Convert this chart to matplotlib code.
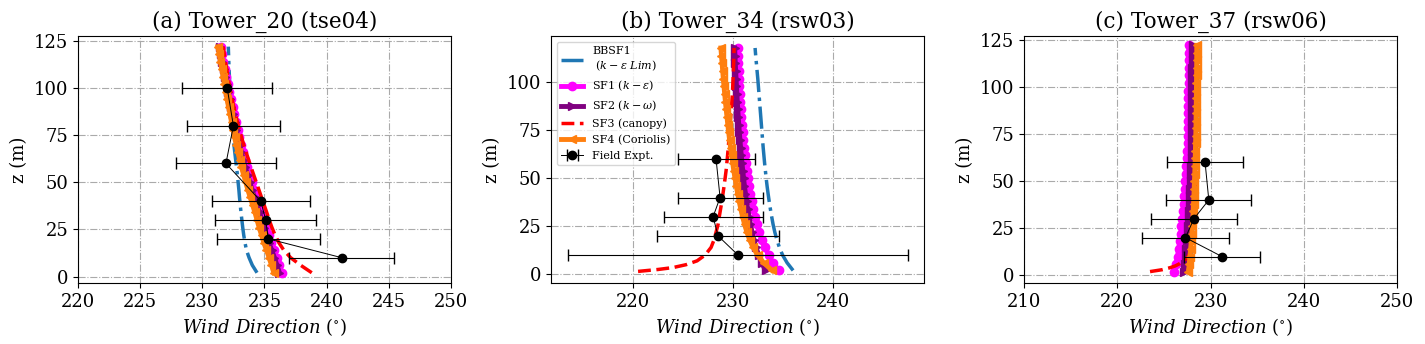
import matplotlib
matplotlib.use("Agg")
import matplotlib.pyplot as plt

plt.rcParams['font.family'] = 'serif'
plt.rcParams['mathtext.fontset'] = 'dejavuserif'

# model heights (m)
z_ac = [2, 6, 10, 14, 18, 22, 26, 30, 34, 38, 42, 46, 50, 54, 58, 62,
        66, 70, 74, 78, 82, 86, 90, 94, 98, 102, 106, 110, 114, 118, 122]
z_b = [2, 6, 10, 14, 18, 22, 26, 30, 34, 38, 42, 46, 50, 54, 58, 62,
       66, 70, 74, 78, 82, 86, 90, 94, 98, 102, 106, 110, 114, 118]
z_red_b = [1.5, 2.5, 3.5, 5, 7, 10, 14, 18, 22, 26, 30, 38, 46, 54, 62,
           70, 78, 86, 94, 102, 110, 118]
z_red_c = [2, 3, 4, 5, 6, 8, 10, 14, 18, 22, 26, 30, 38, 46, 54, 62,
           70, 78, 86, 94, 102, 110, 118, 122]

# field experiment heights
z_obs = [10, 20, 30, 40, 60, 80, 100]
z_obs_bc = [10, 20, 30, 40, 60]

# ---- (a) Tower_20 ----
bbsf1_a = [234.40, 234.02, 233.76, 233.55, 233.43, 233.33, 233.25, 233.18, 233.11, 233.05,
           232.99, 232.94, 232.88, 232.82, 232.75, 232.68, 232.61, 232.54, 232.48, 232.43,
           232.39, 232.35, 232.31, 232.28, 232.24, 232.21, 232.18, 232.15, 232.13, 232.11, 232.09]
sf1_a = [236.40, 236.20, 236.00, 235.77, 235.54, 235.34, 235.14, 234.95, 234.77, 234.56,
         234.36, 234.15, 233.97, 233.78, 233.60, 233.43, 233.27, 233.12, 232.98, 232.85,
         232.71, 232.58, 232.44, 232.31, 232.18, 232.07, 231.94, 231.82, 231.70, 231.58, 231.47]
sf2_a = [236.20, 236.00, 235.80, 235.58, 235.35, 235.16, 234.96, 234.78, 234.60, 234.40,
         234.20, 234.00, 233.82, 233.64, 233.46, 233.30, 233.14, 233.00, 232.86, 232.73,
         232.60, 232.47, 232.34, 232.21, 232.09, 231.98, 231.86, 231.74, 231.62, 231.51, 231.40]
sf3_a = [238.80, 237.90, 237.10, 236.55, 236.15, 235.85, 235.60, 235.38, 235.18, 234.97,
         234.76, 234.55, 234.34, 234.13, 233.92, 233.72, 233.52, 233.33, 233.15, 232.98,
         232.82, 232.67, 232.53, 232.40, 232.28, 232.17, 232.06, 231.96, 231.86, 231.77, 231.68]
sf4_a = [235.75, 235.56, 235.37, 235.16, 234.94, 234.76, 234.57, 234.40, 234.23, 234.04,
         233.85, 233.66, 233.49, 233.32, 233.15, 233.00, 232.85, 232.72, 232.59, 232.47,
         232.35, 232.23, 232.11, 231.99, 231.88, 231.78, 231.67, 231.56, 231.45, 231.35, 231.25]
obs_a = [241.2, 235.3, 235.1, 234.7, 231.9, 232.5, 232.0]
err_a = [4.25, 4.15, 4.05, 3.95, 4.0, 3.75, 3.6]

# ---- (b) Tower_34 ----
bbsf1_b = [236.00, 235.40, 234.95, 234.63, 234.38, 234.17, 234.00, 233.86, 233.73, 233.61,
           233.50, 233.40, 233.31, 233.23, 233.15, 233.08, 233.01, 232.95, 232.89, 232.83,
           232.77, 232.71, 232.65, 232.59, 232.53, 232.47, 232.40, 232.33, 232.26, 232.20]
sf1_b = [234.55, 234.00, 233.55, 233.18, 232.88, 232.62, 232.40, 232.21, 232.04, 231.88,
         231.74, 231.61, 231.49, 231.38, 231.28, 231.19, 231.10, 231.02, 230.95, 230.89,
         230.83, 230.78, 230.73, 230.68, 230.64, 230.60, 230.56, 230.53, 230.50, 230.47]
sf2_b = [233.25, 232.85, 232.55, 232.30, 232.08, 231.90, 231.74, 231.60, 231.47, 231.35,
         231.24, 231.14, 231.05, 230.97, 230.89, 230.82, 230.75, 230.69, 230.63, 230.57,
         230.52, 230.47, 230.42, 230.38, 230.34, 230.30, 230.26, 230.22, 230.19, 230.16]
sf3_b = [220.5, 222.5, 224.0, 225.3, 226.4, 227.2, 227.8, 228.1, 228.3, 228.5, 228.62,
         228.88, 229.1, 229.3, 229.45, 229.58, 229.7, 229.82, 229.93, 230.0, 230.06, 230.1]
sf4_b = [233.90, 233.05, 232.45, 232.00, 231.65, 231.38, 231.15, 230.95, 230.77, 230.61,
         230.46, 230.32, 230.19, 230.07, 229.96, 229.85, 229.75, 229.65, 229.56, 229.47,
         229.39, 229.31, 229.23, 229.16, 229.09, 229.02, 228.96, 228.90, 228.84, 228.78]
obs_b = [230.5, 228.5, 228.0, 228.7, 228.3]
err_b = [17.0, 6.1, 4.95, 4.25, 3.85]

# ---- (c) Tower_37 ----
bbsf1_c = [227.75, 227.82, 227.88, 227.94, 227.99, 228.04, 228.09, 228.13, 228.17, 228.21,
           228.25, 228.28, 228.31, 228.34, 228.37, 228.40, 228.42, 228.44, 228.46, 228.48,
           228.50, 228.52, 228.54, 228.56, 228.58, 228.60, 228.61, 228.62, 228.63, 228.64, 228.65]
sf1_c = [226.05, 226.30, 226.45, 226.57, 226.68, 226.78, 226.87, 226.95, 227.03, 227.10,
         227.17, 227.23, 227.29, 227.35, 227.40, 227.45, 227.49, 227.52, 227.54, 227.56,
         227.58, 227.59, 227.60, 227.61, 227.62, 227.63, 227.63, 227.64, 227.64, 227.65, 227.65]
sf2_c = [227.15, 227.25, 227.33, 227.40, 227.47, 227.53, 227.59, 227.64, 227.69, 227.74,
         227.78, 227.82, 227.86, 227.89, 227.92, 227.95, 227.97, 227.99, 228.00, 228.01,
         228.02, 228.03, 228.03, 228.04, 228.04, 228.05, 228.05, 228.05, 228.06, 228.06, 228.06]
sf3_c = [223.5, 224.8, 225.6, 226.2, 226.6, 227.2, 227.6, 228.0, 228.2, 228.25, 228.28, 228.3,
         228.33, 228.36, 228.38, 228.4, 228.42, 228.43, 228.44, 228.45, 228.46, 228.47, 228.48, 228.48]
sf4_c = [227.62, 227.70, 227.78, 227.85, 227.92, 227.98, 228.03, 228.08, 228.12, 228.16,
         228.20, 228.23, 228.26, 228.29, 228.32, 228.34, 228.36, 228.38, 228.40, 228.42,
         228.43, 228.44, 228.45, 228.46, 228.47, 228.48, 228.49, 228.50, 228.50, 228.51, 228.51]
obs_c = [231.2, 227.3, 228.2, 229.8, 229.4]
err_c = [4.1, 4.65, 4.65, 4.55, 4.1]

titles = ['(a) Tower_20 (tse04)', '(b) Tower_34 (rsw03)', '(c) Tower_37 (rsw06)']


def draw(ax, z, zr, bb, s1, s2, s3, s4, zo, ob, er):
    ax.plot(bb, z, '-.', color='#1f77b4', lw=2.5, label='BBSF1\n $(k-\\varepsilon\\ Lim)$')
    ax.plot(s1, z, '-o', color='magenta', lw=3.5, ms=6, label='SF1 $(k-\\varepsilon)$')
    ax.plot(s2, z, '->', color='purple', lw=3.5, ms=6, label='SF2 $(k-\\omega)$')
    ax.plot(s3, zr, '--', color='red', lw=2.5, label='SF3 (canopy)')
    ax.plot(s4, z, '-<', color='#ff7f0e', lw=3.5, ms=6, label='SF4 (Coriolis)')
    ax.errorbar(ob, zo, xerr=er, fmt='-o', color='k', lw=0.7, ms=6, elinewidth=0.8,
                capsize=4, label='Field Expt.')
    ax.grid(True, linestyle='-.', color='#aaaaaa', lw=0.8)
    ax.tick_params(labelsize=13)
    ax.set_xlabel('$Wind\\ Direction\\ (^{\\circ})$', fontsize=13)
    ax.set_ylabel('z (m)', fontsize=13)


fig, axs = plt.subplots(1, 3, figsize=(14.25, 3.44), dpi=100)
fig.subplots_adjust(left=0.0547, right=0.9805, bottom=0.1765, top=0.894, wspace=0.268)

draw(axs[0], z_ac, z_ac, bbsf1_a, sf1_a, sf2_a, sf3_a, sf4_a, z_obs, obs_a, err_a)
draw(axs[1], z_b, z_red_b, bbsf1_b, sf1_b, sf2_b, sf3_b, sf4_b, z_obs_bc, obs_b, err_b)
draw(axs[2], z_ac, z_red_c, bbsf1_c, sf1_c, sf2_c, sf3_c, sf4_c, z_obs_bc, obs_c, err_c)

axs[0].set_xlim(220, 250)
axs[0].set_ylim(-3.6, 127.4)
axs[0].set_xticks([220, 225, 230, 235, 240, 245, 250])
axs[1].set_xlim(211.8, 249.1)
axs[1].set_ylim(-4.7, 124)
axs[1].set_yticks([0, 25, 50, 75, 100])
axs[2].set_xlim(210, 250)
axs[2].set_ylim(-4.2, 126.7)
for ax, t in zip(axs, titles):
    ax.set_title(t, fontsize=15.5)
    if ax is not axs[1]:
        ax.set_yticks([0, 25, 50, 75, 100, 125])

axs[1].legend(loc='upper left', fontsize=8)

fig.savefig('out.png', dpi=100)
